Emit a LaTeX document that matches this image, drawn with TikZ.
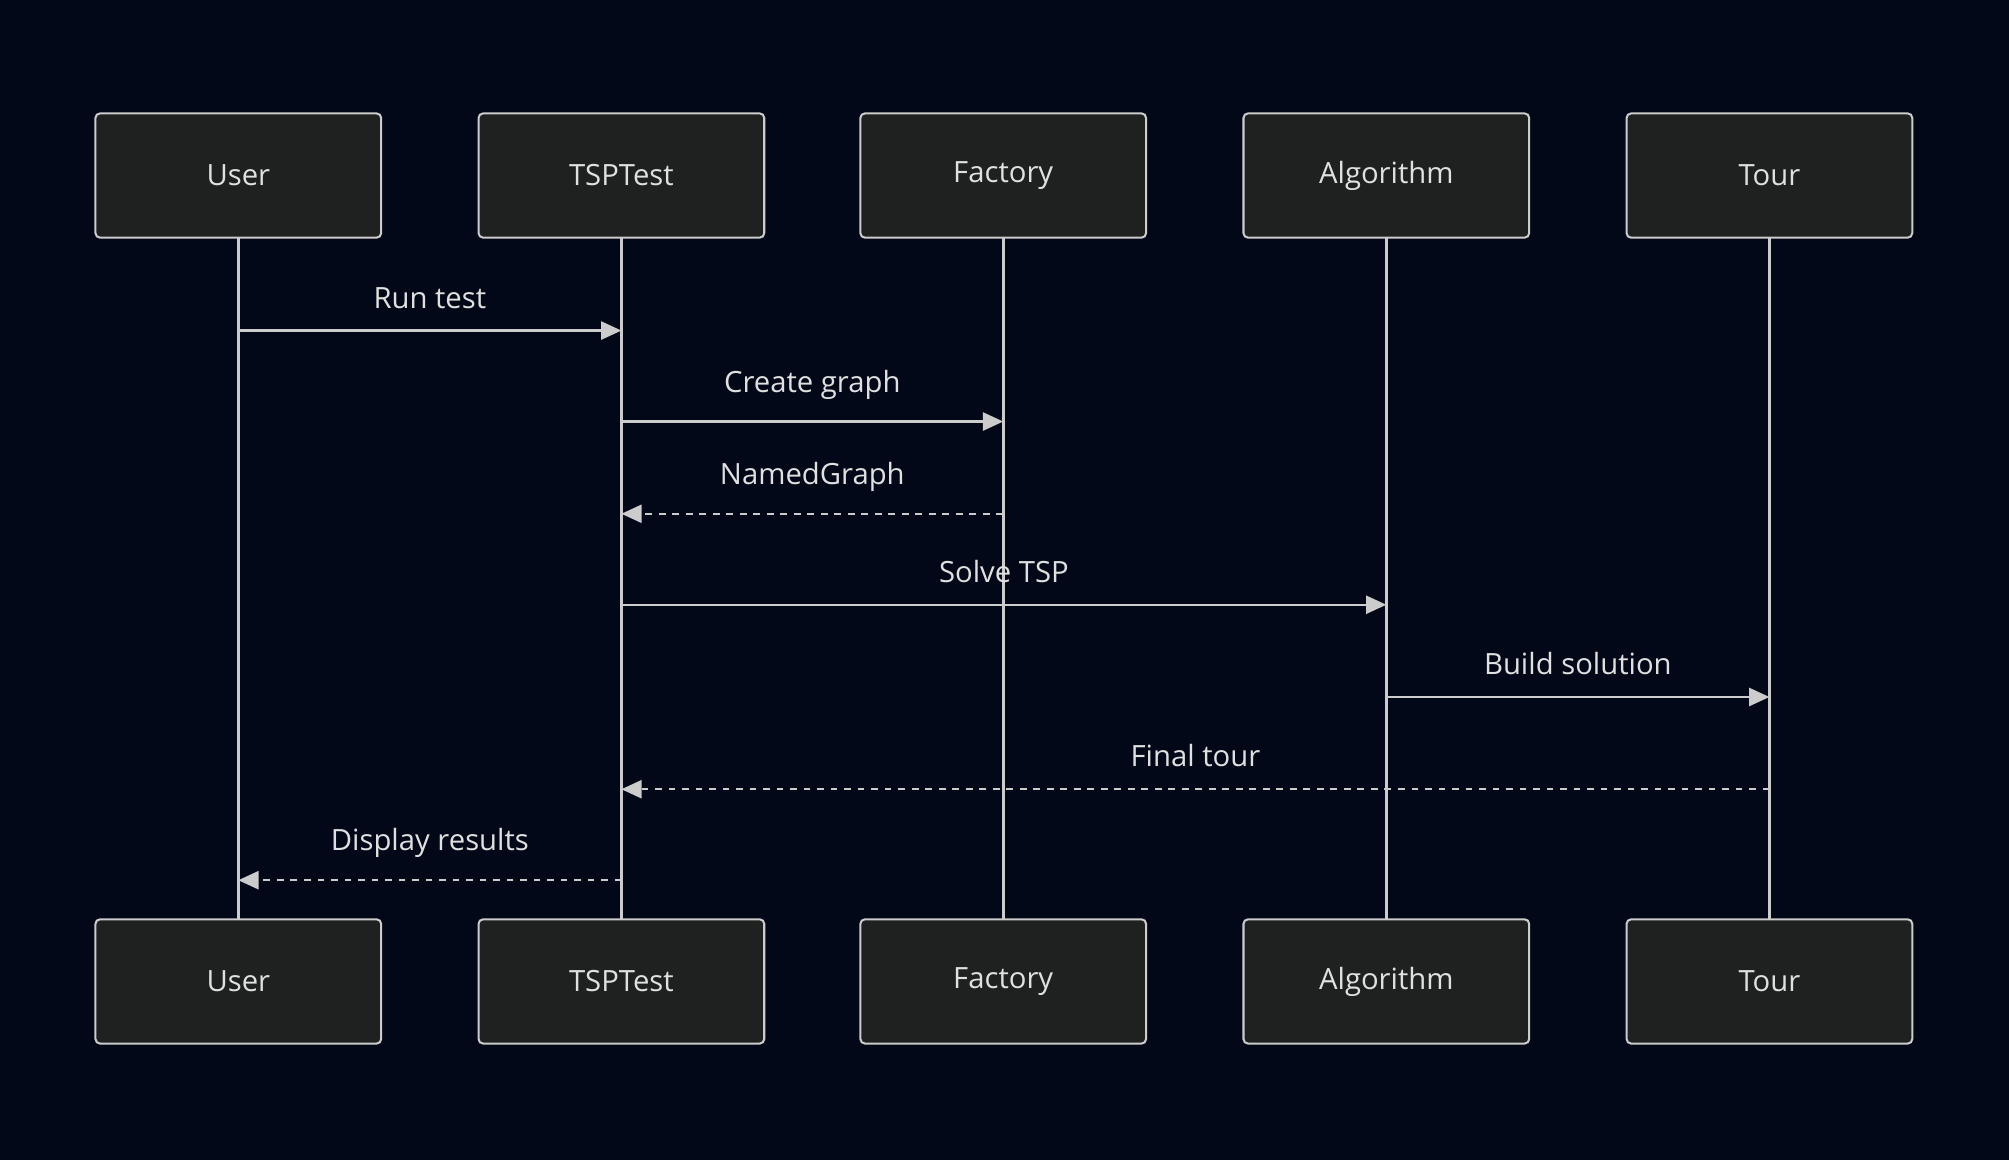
\documentclass[tikz,border=0pt]{standalone}
\usepackage{fontspec}
\setmainfont{Open Sans}
\usetikzlibrary{arrows.meta}
\definecolor{bg}{HTML}{020817}
\definecolor{boxf}{HTML}{1F2020}
\definecolor{ln}{HTML}{CCCCCC}
\definecolor{tx}{HTML}{E0E0E0}
\begin{document}
\begin{tikzpicture}[x=0.02cm,y=-0.02cm,
  actor/.style={draw=ln,fill=boxf,line width=0.9pt,rounded corners=2pt,minimum width=4.46cm,minimum height=1.94cm,text=tx,font=\fontsize{13}{15}\selectfont},
  life/.style={draw=ln,line width=1.3pt},
  msg/.style={draw=ln,line width=1.1pt,-{Triangle[length=9pt,width=8pt]}},
  rep/.style={msg,dash pattern=on 3pt off 3pt},
  lab/.style={text=tx,font=\fontsize{13}{15}\selectfont}]
\fill[bg] (0,0) rectangle (1568,905);
\useasboundingbox (0,0) rectangle (1568,905);
\foreach \n/\x/\t in {u/186/User,t/485/TSPTest,f/783/Factory,a/1082/Algorithm,r/1381/Tour}{
  \draw[life] (\x,185) -- (\x,717);
  \node[actor] (\n1) at (\x,137) {\t};
  \node[actor] (\n2) at (\x,766) {\t};
  \coordinate (\n) at (\x,0);
}
\foreach \n/\x in {u/186,t/485,f/783,a/1082,r/1381}{
  \foreach \k/\y in {1/258,2/329,3/401,4/472,5/544,6/616,7/687}{\coordinate (\n\k) at (\x,\y);}
}
\draw[msg] (u1) -- (t1) node[lab,midway,above=6pt] {Run test};
\draw[msg] (t2) -- (f2) node[lab,midway,above=6pt] {Create graph};
\draw[rep] (f3) -- (t3) node[lab,midway,above=6pt] {NamedGraph};
\draw[msg] (t4) -- (a4) node[lab,midway,above=6pt] {Solve TSP};
\draw[msg] (a5) -- (r5) node[lab,midway,above=6pt] {Build solution};
\draw[rep] (r6) -- (t6) node[lab,midway,above=6pt] {Final tour};
\draw[rep] (t7) -- (u7) node[lab,midway,above=6pt] {Display results};
\end{tikzpicture}
\end{document}
